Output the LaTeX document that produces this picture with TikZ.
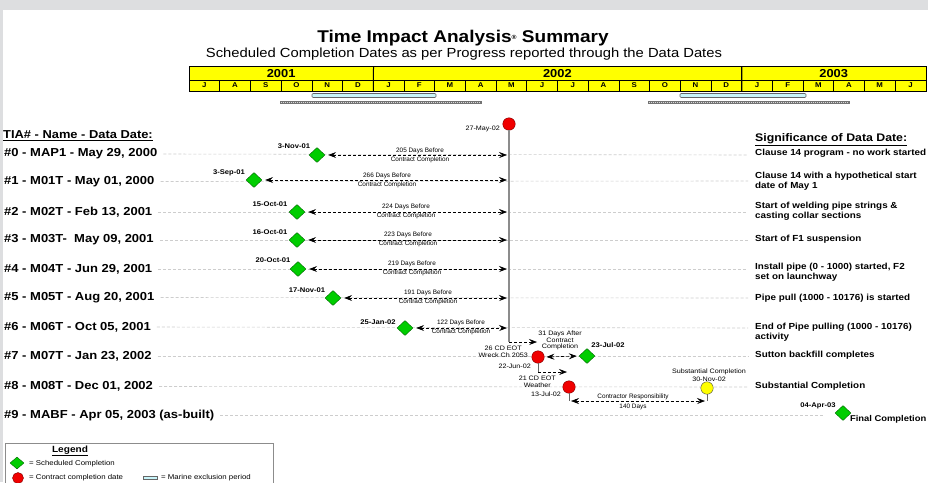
\documentclass[tikz,border=0pt]{standalone}
\usepackage{fontspec}
\setmainfont{Liberation Sans}
\newfontfamily\wa{Liberation Sans}[FakeStretch=1.12]
\usetikzlibrary{shapes.geometric,arrows.meta}
\definecolor{topgray}{RGB}{221,222,224}
\definecolor{tyel}{RGB}{255,255,0}
\definecolor{dgreen}{RGB}{0,205,0}
\definecolor{dred}{RGB}{240,0,0}
\definecolor{cyanbar}{RGB}{200,245,250}
\definecolor{guidegray}{RGB}{205,205,205}
\begin{document}
\begin{tikzpicture}[x=1pt,y=-1pt,
  dia/.style={diamond,draw=green!40!black,line width=0.4pt,fill=dgreen,minimum width=16pt,minimum height=15pt,inner sep=0pt},
  rc/.style={circle,draw=red!50!black,line width=0.4pt,fill=dred,minimum size=12.5pt,inner sep=0pt},
  yc/.style={circle,draw=black!70,line width=0.4pt,fill=tyel,minimum size=12.5pt,inner sep=0pt},
  dlbl/.style={font=\fontsize{6.8}{7}\wa\bfseries,inner sep=0pt},
  days/.style={font=\fontsize{6.4}{9}\selectfont,align=center,inner sep=0pt},
  small/.style={font=\fontsize{6.4}{6.8}\wa,align=center,inner sep=0pt},
  lbl/.style={font=\fontsize{11.6}{12}\wa\bfseries,inner sep=0pt,anchor=west},
  rlbl/.style={font=\fontsize{8.8}{10}\wa\bfseries,inner sep=0pt,anchor=west,align=left},
  mcell/.style={rectangle,draw=black,line width=0.5pt,fill=tyel,minimum width=30.7pt,minimum height=11pt,inner sep=0pt,font=\fontsize{7}{7}\wa\bfseries},
  ycell/.style={rectangle,draw=black,line width=0.6pt,fill=tyel,minimum height=13.5pt,inner sep=0pt,font=\fontsize{11.5}{12}\wa\bfseries},
  guide/.style={guidegray,dash pattern=on 3pt off 2pt,line width=0.6pt},
  darr/.style={dash pattern=on 3pt off 2pt,line width=0.6pt,{Stealth[length=8pt,width=6pt,inset=3pt]}-{Stealth[length=8pt,width=6pt,inset=3pt]}},
  sarr/.style={dash pattern=on 3pt off 2pt,line width=0.6pt,-{Stealth[length=8pt,width=6pt,inset=3pt]}},
  vline/.style={black!45,line width=1.4pt},
  tline/.style={black!60,line width=0.8pt},
  mbar/.style={draw=black!60,fill=cyanbar,line width=0.6pt,rounded corners=1pt},
  hbar/.style={fill=black!55}
]
\useasboundingbox (0,0) rectangle (928,482);
\path[fill=white] (0,0) rectangle (928,482);
\path[fill=topgray] (0,0) rectangle (928,9.5);
\path[fill=topgray] (0,9.5) rectangle (2.5,482);

% titles
\node[inner sep=0pt] (title) at (463,38) {\fontsize{17}{18}\wa\bfseries Time Impact Analysis\raisebox{3pt}{\fontsize{6}{6}\selectfont\textregistered} Summary};
\node[inner sep=0pt] (sub) at (464,54) {\fontsize{13.2}{14}\wa Scheduled Completion Dates as per Progress reported through the Data Dates};

% timeline
\node[ycell,minimum width=184.2pt] (y1) at (281.1,73.25) {2001};
\node[ycell,minimum width=368.4pt] (y2) at (557.4,73.25) {2002};
\node[ycell,minimum width=184.2pt] (y3) at (833.7,73.25) {2003};
\foreach \l [count=\k from 0] in {J,A,S,O,N,D,J,F,M,A,M,J,J,A,S,O,N,D,J,F,M,A,M,J}
  \node[mcell] (m\k) at ({189+30.7*(\k+0.5)},85.5) {\l};
\draw[line width=1pt] (y1.north east) -- (m5.south east);
\draw[line width=1pt] (y2.north east) -- (m17.south east);

% marine exclusion & gray bars
\path[mbar] (312,93.5) rectangle (436,97.5);
\path[mbar] (680,93.5) rectangle (806,97.5);
\path[hbar] (280,100.5) rectangle (482,103.5);
\draw[white!70!gray,dash pattern=on 1pt off 1pt,line width=0.8pt] (281,102) -- (481,102);
\path[hbar] (648,100.5) rectangle (850,103.5);
\draw[white!70!gray,dash pattern=on 1pt off 1pt,line width=0.8pt] (649,102) -- (849,102);

% headings
\node[inner sep=0pt,anchor=west] (lh) at (3,136) {\fontsize{11.5}{12}\wa\bfseries\underline{TIA\# - Name - Data Date:}};
\node[inner sep=0pt,anchor=west] (rh) at (755,140) {\fontsize{11}{12}\wa\bfseries\underline{Significance of Data Date:}};

% left labels
\node[lbl] (n0) at (4,154) {\#0 - MAP1 - May 29, 2000};
\node[lbl] (n1) at (4,181.5) {\#1 - M01T - May 01, 2000};
\node[lbl] (n2) at (4,212) {\#2 - M02T - Feb 13, 2001};
\node[lbl] (n3) at (4,240) {\#3 - M03T-\ \ May 09, 2001};
\node[lbl] (n4) at (4,269) {\#4 - M04T - Jun 29, 2001};
\node[lbl] (n5) at (4,297.5) {\#5 - M05T - Aug 20, 2001};
\node[lbl] (n6) at (4,327) {\#6 - M06T - Oct 05, 2001};
\node[lbl] (n7) at (4,356) {\#7 - M07T - Jan 23, 2002};
\node[lbl] (n8) at (4,386.5) {\#8 - M08T - Dec 01, 2002};
\node[lbl] (n9) at (4,415) {\#9 - MABF - Apr 05, 2003 (as-built)};

% guides
\foreach \i/\y in {0/155,1/181,2/212,3/240,4/269,5/298,6/328,7/356,8/387}
  \coordinate (g\i) at (748,\y);
\coordinate (g9) at (825,415);
\foreach \i in {0,...,9} \draw[guide,shorten <=6pt] (n\i.east) -- (g\i);

% right labels
\node[rlbl] (r0) at (755,153) {Clause 14 program - no work started};
\node[rlbl] (r1) at (755,181.5) {Clause 14 with a hypothetical start\\date of May 1};
\node[rlbl] (r2) at (755,211.5) {Start of welding pipe strings \&\\casting collar sections};
\node[rlbl] (r3) at (755,239) {Start of F1 suspension};
\node[rlbl] (r4) at (755,272) {Install pipe (0 - 1000) started, F2\\set on launchway};
\node[rlbl] (r5) at (755,298) {Pipe pull (1000 - 10176) is started};
\node[rlbl] (r6) at (755,332) {End of Pipe pulling (1000 - 10176)\\activity};
\node[rlbl] (r7) at (755,355) {Sutton backfill completes};
\node[rlbl] (r8) at (755,386) {Substantial Completion};
\node[rlbl,anchor=east,font=\fontsize{8.4}{10}\wa\bfseries] (r9) at (926.5,419) {Final Completion};

% contract completion
\node[rc] (cc) at (509,124) {};
\node[small,anchor=east] (ccl) at (500,129) {27-May-02};
\coordinate (vb) at (509,342);
\draw[vline] (cc.south) -- (vb);

% scheduled completions
\node[dia] (d0) at (317,155) {};
\node[dia] (d1) at (254,180) {};
\node[dia] (d2) at (297,212) {};
\node[dia] (d3) at (297,240) {};
\node[dia] (d4) at (298,269) {};
\node[dia] (d5) at (333,298) {};
\node[dia] (d6) at (405,328) {};
\node[dia] (d7) at (587,356) {};
\node[dia] (d9) at (843,413) {};

\node[dlbl] (t0) at (294,146.5) {3-Nov-01};
\node[dlbl] (t1) at (229,172.5) {3-Sep-01};
\node[dlbl] (t2) at (270,204.5) {15-Oct-01};
\node[dlbl] (t3) at (270,232.5) {16-Oct-01};
\node[dlbl] (t4) at (273,260.5) {20-Oct-01};
\node[dlbl] (t5) at (307,290) {17-Nov-01};
\node[dlbl] (t6) at (378,322) {25-Jan-02};
\node[dlbl] (t7) at (608,345) {23-Jul-02};
\node[dlbl] (t9) at (818,405.5) {04-Apr-03};

% arrows to contract completion line
\foreach \i/\y in {0/155,1/180,2/212,3/240,4/269,5/298,6/328}
  \coordinate (e\i) at (507,\y);
\foreach \i in {0,...,6} \draw[darr,shorten <=3pt] (d\i.east) -- (e\i);

\node[days] (l0) at (420,155.5) {205 Days Before\\Contract Completion};
\node[days] (l1) at (387,180.5) {266 Days Before\\Contract Completion};
\node[days] (l2) at (406,211.5) {224 Days Before\\Contract Completion};
\node[days] (l3) at (408,239.5) {223 Days Before\\Contract Completion};
\node[days] (l4) at (412,268.5) {219 Days Before\\Contract Completion};
\node[days] (l5) at (428,297.5) {191 Days Before\\Contract Completion};
\node[days] (l6) at (461,327.5) {122 Days Before\\Contract Completion};

% EOT 1
\coordinate (a7) at (537,342);
\draw[sarr] (vb) -- (a7);
\node[rc] (c7) at (538,357) {};
\node[small,anchor=east] (c7l) at (528,351.5) {26 CD EOT\\Wreck Ch 2053};
\node[small,anchor=east] (c7d) at (531,366) {22-Jun-02};
\draw[darr,shorten <=2pt,shorten >=2pt] (c7.east) -- (d7.west);
\node[small,font=\fontsize{6.4}{6.2}\wa] (c7a) at (560,340.5) {31 Days After\\Contract\\Completion};

% EOT 2
\coordinate (b7) at (538,372);
\draw[tline] (c7.south) -- (b7);
\coordinate (a8) at (567,372);
\draw[sarr] (b7) -- (a8);
\node[rc] (c8) at (569,387) {};
\node[small,anchor=east] (c8l) at (556,381.5) {21 CD EOT\\Weather};
\node[small] (c8d) at (546,394.5) {13-Jul-02};

% substantial completion
\coordinate (b8) at (569,401);
\draw[tline] (c8.south) -- (b8);
\node[yc] (ycc) at (707,388) {};
\node[small,font=\fontsize{6.4}{7.8}\wa] (ycl) at (709,375) {Substantial Completion\\30-Nov-02};
\coordinate (b9) at (707,401);
\draw[tline] (ycc.south) -- (b9);
\draw[darr,shorten <=2pt,shorten >=2pt] (b8) -- (b9);
\node[days,font=\fontsize{6.4}{10}\selectfont] (cr) at (633,402) {Contractor Responsibility\\140 Days};

% legend
\draw[black!45,line width=0.8pt] (5,443) rectangle (273,495);
\node[inner sep=0pt] (lg) at (70,451) {\fontsize{9}{10}\wa\bfseries\underline{Legend}};
\node[dia,minimum width=14pt,minimum height=12pt] (ld) at (17,463) {};
\node[inner sep=0pt,anchor=west,font=\fontsize{7}{7}\wa] (ldt) at (29,463.5) {= Scheduled Completion};
\node[rc,minimum size=11pt] (lr) at (18,478) {};
\node[inner sep=0pt,anchor=west,font=\fontsize{7}{7}\wa] (lrt) at (29,478) {= Contract completion date};
\path[mbar,rounded corners=0pt] (143,476) rectangle (157,479.5);
\node[inner sep=0pt,anchor=west,font=\fontsize{7}{7}\wa] (lct) at (161,478) {= Marine exclusion period};
\end{tikzpicture}
\end{document}
